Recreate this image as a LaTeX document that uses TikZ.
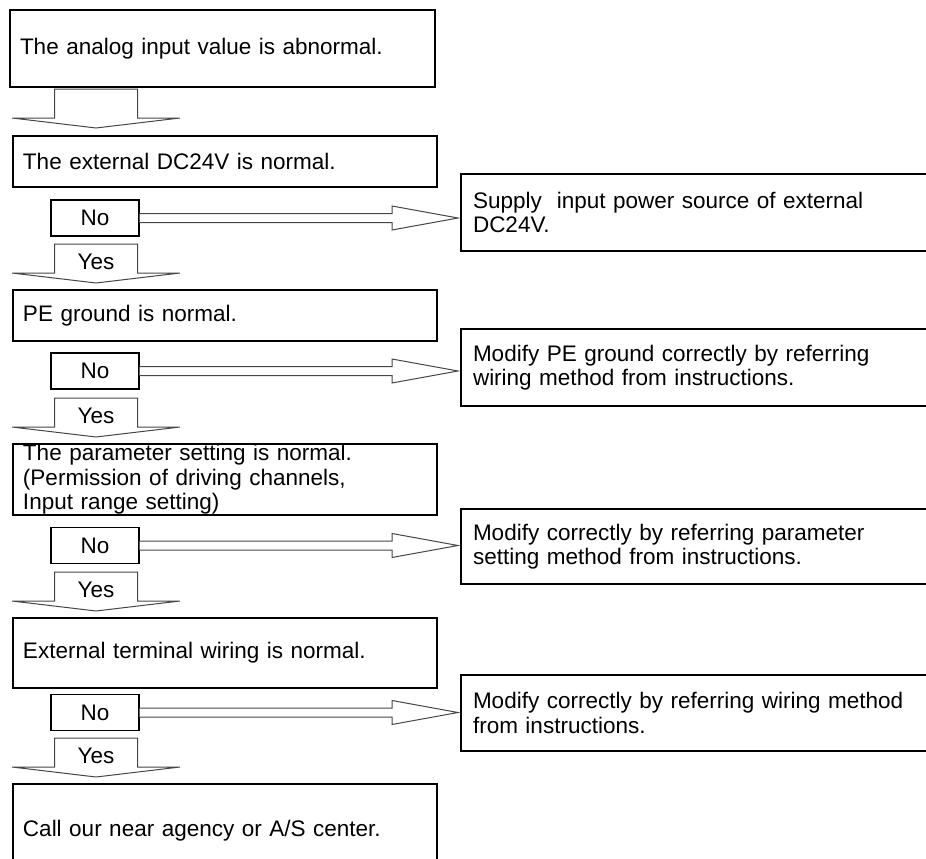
\documentclass[tikz,border=0pt]{standalone}
\usepackage{fontspec}
\setmainfont{Liberation Sans}
\usetikzlibrary{calc}
\definecolor{arrowgray}{RGB}{70,70,70}
\newcommand{\downblock}[1]{\draw[hollow] (#1) ++(-41.5,0) -- ++(0,29) -- ++(-42.5,0) -- ++(84,10) -- ++(84,-10) -- ++(-42.5,0) -- ++(0,-29) -- cycle;}
\newcommand{\sidearrow}[2]{\draw[hollow] ($(#1.east)+(0,-4.5)$) -- ($(#2.west |- #1.east)+(-68,-4.5)$) -- ++(0,-7.5) -- ($(#2.west |- #1.east)+(-2,0)$) -- ($(#2.west |- #1.east)+(-68,12)$) -- ++(0,-7.5) -- ($(#1.east)+(0,4.5)$);}

\begin{document}
\begin{tikzpicture}[x=1pt,y=-1pt,font=\fontsize{22.5}{24.5}\selectfont,box/.style={draw,line width=2pt,anchor=north west,align=left,inner xsep=10pt,inner ysep=0pt,text width=404pt},act/.style={box,inner xsep=12pt,text width=451pt},nobox/.style={draw,line width=1.2pt,minimum width=88pt,minimum height=36pt,inner sep=0pt},hollow/.style={draw=arrowgray,fill=white,line width=1pt,line join=miter}]

\useasboundingbox (0,0) rectangle (926,859);
\clip (0,0) rectangle (926,859);

% check column
\node[box,text width=405pt,minimum height=77pt] (b1) at (9,9) {The analog input value is abnormal.};
\node[box,minimum height=51pt] (b2) at (12,135) {The external DC24V is normal.};
\node[box,minimum height=51pt] (b3) at (12,289) {PE ground is normal.};
\node[box,minimum height=71pt] (b4) at (12,443) {The parameter setting is normal.\\(Permission of driving channels,\\Input range setting)};
\node[box,minimum height=70pt] (b5) at (12,617) {External terminal wiring is normal.};
\node[box,minimum height=94pt] (b6) at (12,783) {Call our near agency or A/S center.};

% remedy column
\node[act,minimum height=77pt] (r1) at (460,173) {Supply~ input power source of external\\DC24V.};
\node[act,minimum height=77pt] (r2) at (460,328) {Modify PE ground correctly by referring\\wiring method from instructions.};
\node[act,minimum height=75pt] (r3) at (460,508) {Modify correctly by referring parameter\\setting method from instructions.};
\node[act,minimum height=76pt] (r4) at (460,674) {Modify correctly by referring wiring method\\from instructions.};

% down arrows
\coordinate (d0) at (96,89);
\coordinate (d1) at (96,244);
\coordinate (d2) at (96,398);
\coordinate (d3) at (96,572);
\coordinate (d4) at (96,738);
\downblock{d0}
\downblock{d1}
\downblock{d2}
\downblock{d3}
\downblock{d4}
\node (y1) at (96,262) {Yes};
\node (y2) at (96,416) {Yes};
\node (y3) at (96,590) {Yes};
\node (y4) at (96,756) {Yes};

% no branches
\node[nobox] (n1) at (95,218) {No};
\node[nobox] (n2) at (95,371) {No};
\node[nobox] (n3) at (95,545.5) {No};
\node[nobox] (n4) at (95,712.5) {No};
\sidearrow{n1}{r1}
\sidearrow{n2}{r2}
\sidearrow{n3}{r3}
\sidearrow{n4}{r4}
\end{tikzpicture}
\end{document}
